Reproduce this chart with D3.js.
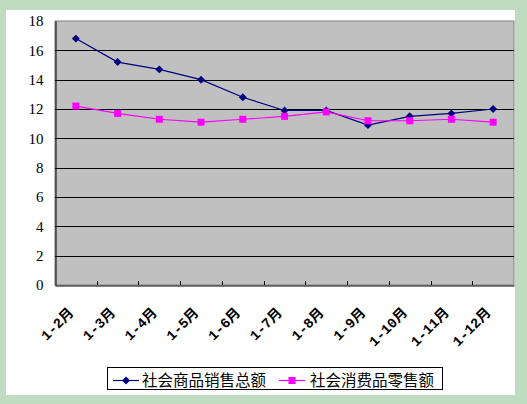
<!DOCTYPE html>
<html><head><meta charset="utf-8">
<script src="https://cdn.jsdelivr.net/npm/d3@7"></script>
<style>body{margin:0;background:#C0DCC0;}svg{display:block;}</style>
</head><body>
<svg id="c" width="527" height="404"></svg>
<script>
const categories = ["1-2月","1-3月","1-4月","1-5月","1-6月","1-7月","1-8月","1-9月","1-10月","1-11月","1-12月"];
const seriesNames = ["社会商品销售总额","社会消费品零售额"];
const salesTotal = [16.8,15.2,14.7,14.0,12.8,11.9,11.9,10.9,11.5,11.7,12.0];
const retailTotal = [12.2,11.7,11.3,11.1,11.3,11.5,11.8,11.2,11.2,11.3,11.1];
const yTicks = [0,2,4,6,8,10,12,14,16,18];

const svg = d3.select("#c");
svg.append("rect").attr("x",0).attr("y",0).attr("width",527).attr("height",404).attr("fill","#C0DCC0");
svg.append("rect").attr("x",6).attr("y",10).attr("width",509).attr("height",385).attr("fill","#FFFFFF");

const L=55, R=514, T=21, B=285;
const x = d3.scaleBand().domain(categories).range([L,R]);
const y = d3.scaleLinear().domain([0,18]).range([B,T]);

svg.append("rect").attr("x",L).attr("y",T).attr("width",R-L).attr("height",B-T)
  .attr("fill","#C0C0C0").attr("stroke","#808080").attr("stroke-width",1);

// gridlines
svg.append("g").selectAll("line").data(yTicks.filter(d=>d>0&&d<18)).join("line")
  .attr("x1",L).attr("x2",R).attr("y1",d=>Math.round(y(d))+0.5).attr("y2",d=>Math.round(y(d))+0.5)
  .attr("stroke","#000").attr("stroke-width",1);

// axes
const yAxis = d3.axisLeft(y).tickValues(yTicks).tickSize(0).tickPadding(12).tickFormat(d3.format("d"));
const gy = svg.append("g").attr("transform",`translate(${L+0.5},0)`).call(yAxis);
gy.select(".domain").attr("stroke","#000");
gy.selectAll("text").attr("font-family","Liberation Serif, serif").attr("font-size","15px").attr("fill","#000");

const xAxis = d3.axisBottom(x).tickSize(0).tickFormat("");
const gx = svg.append("g").attr("transform",`translate(0,${B+0.5})`).call(xAxis);
gx.select(".domain").attr("stroke","#000");
gx.selectAll(".tick").remove();
// between-category ticks pointing up
const tickPos = categories.slice(1).map(c=>x(c));
svg.append("g").selectAll("line").data(tickPos).join("line")
  .attr("x1",d=>Math.round(d)+0.5).attr("x2",d=>Math.round(d)+0.5).attr("y1",B-4).attr("y2",B)
  .attr("stroke","#000");

// x labels
svg.append("g").selectAll("text").data(categories).join("text")
  .attr("transform",d=>`translate(${x(d)+x.bandwidth()/2-5},${310}) rotate(-45)`)
  .attr("text-anchor","end").attr("dy","0.35em")
  .attr("font-family","Liberation Mono, Noto Sans CJK SC, monospace").attr("font-size","14px")
  .attr("font-weight","bold").attr("fill","#000")
  .text(d=>d);

const cx = d=>x(d)+x.bandwidth()/2;
const line = d3.line().x((v,i)=>cx(categories[i])).y(v=>y(v));

svg.append("path").datum(salesTotal).attr("d",line).attr("fill","none").attr("stroke","#000080").attr("stroke-width",1.2);
svg.append("path").datum(retailTotal).attr("d",line).attr("fill","none").attr("stroke","#FF00FF").attr("stroke-width",1.2);

const diamond = d3.symbol().type(d3.symbolDiamond2).size(40);
svg.append("g").selectAll("path").data(salesTotal).join("path")
  .attr("transform",(v,i)=>`translate(${cx(categories[i])},${y(v)})`)
  .attr("d",diamond).attr("fill","#000080");
svg.append("g").selectAll("rect").data(retailTotal).join("rect")
  .attr("x",(v,i)=>cx(categories[i])-3.5).attr("y",v=>y(v)-3.5).attr("width",7).attr("height",7)
  .attr("fill","#FF00FF");

// legend
const lg = svg.append("g");
lg.append("rect").attr("x",107.5).attr("y",367.5).attr("width",335).attr("height",22)
  .attr("fill","#FFFFFF").attr("stroke","#000");
const items = [
  {name:seriesNames[0], color:"#000080", x0:113, tx:142, marker:"d"},
  {name:seriesNames[1], color:"#FF00FF", x0:279, tx:310, marker:"s"}
];
items.forEach(it=>{
  lg.append("line").attr("x1",it.x0).attr("x2",it.x0+26).attr("y1",380.5).attr("y2",380.5)
    .attr("stroke",it.color).attr("stroke-width",1.2);
  if(it.marker==="d"){
    lg.append("path").attr("transform",`translate(${it.x0+13},380.5)`).attr("d",diamond).attr("fill",it.color);
  } else {
    lg.append("rect").attr("x",it.x0+13-3.5).attr("y",377).attr("width",7).attr("height",7).attr("fill",it.color);
  }
  lg.append("text").attr("x",it.tx).attr("y",380.5).attr("dy","0.36em")
    .attr("font-family","Noto Sans CJK SC, sans-serif").attr("font-size","15.5px").attr("fill","#000")
    .text(it.name);
});
</script>
</body></html>
